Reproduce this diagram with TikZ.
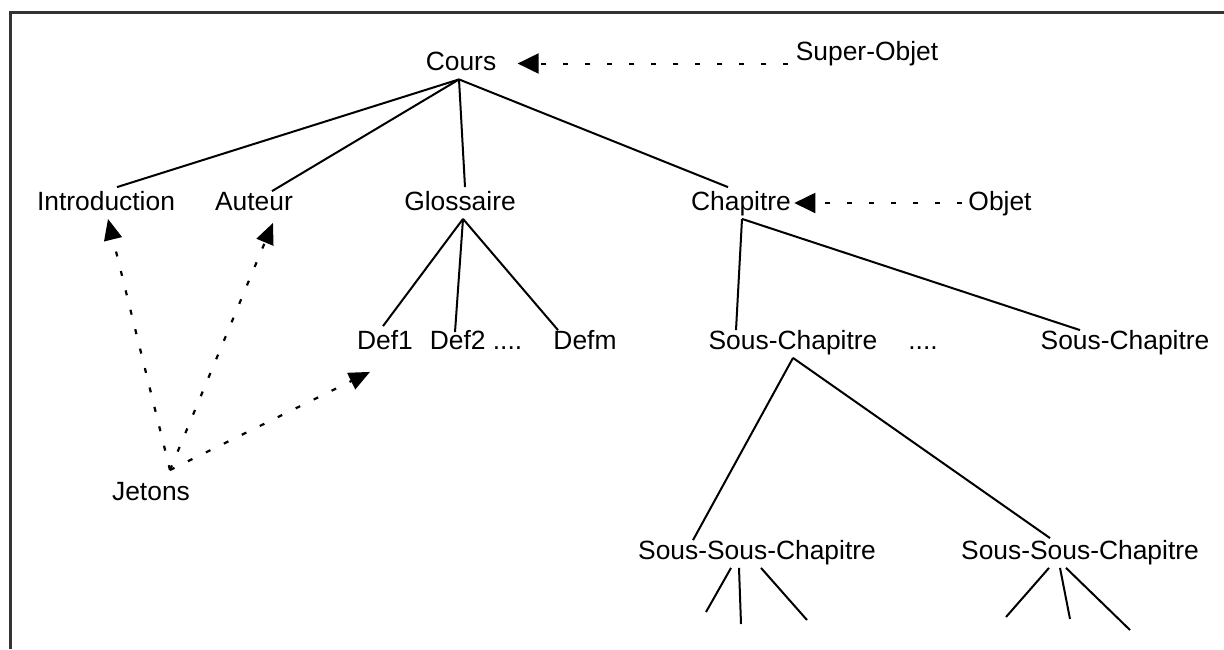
\documentclass[tikz,border=0pt]{standalone}
\usepackage{fontspec}
\setmainfont{Liberation Sans}
\usetikzlibrary{arrows.meta}
\begin{document}
\begin{tikzpicture}[x=0.5pt,y=-0.5pt,
    lbl/.style={inner sep=1.5pt,text height=9.9pt,text depth=2.6pt,font=\fontsize{13.2}{15}\selectfont},
    edge/.style={line width=1pt},
    objarrow/.style={line width=1pt,dash pattern=on 2.5pt off 8.5pt,-{Triangle[length=10.5pt,width=10pt]}},
    jetarrow/.style={line width=1.1pt,dash pattern=on 2.5pt off 7.5pt,-{Triangle[length=10.5pt,width=9pt]}}]
    \useasboundingbox (0,0) rectangle (1224,649);
    \draw[line width=1.5pt,black!80] (1224,12) -- (10,12) -- (10,649);
    \node[lbl] (cours) at (461,63.5) {Cours};
    \node[lbl] (superobj) at (867,53.5) {Super-Objet};
    \node[lbl] (intro) at (106,203) {Introduction};
    \node[lbl] (auteur) at (254,203) {Auteur};
    \node[lbl] (gloss) at (460,203) {Glossaire};
    \node[lbl] (chap) at (741,203) {Chapitre};
    \node[lbl] (objet) at (1000,203) {Objet};
    \node[lbl] (def1) at (385,342) {Def1};
    \node[lbl] (def2) at (476,342) {Def2 ....};
    \node[lbl] (defm) at (585,342) {Defm};
    \node[lbl] (souschap1) at (793,342) {Sous-Chapitre};
    \node[lbl] (dots) at (923,342) {....};
    \node[lbl] (souschap2) at (1125,342) {Sous-Chapitre};
    \node[lbl] (jetons) at (151,493.5) {Jetons};
    \node[lbl] (ssc1) at (757,552) {Sous-Sous-Chapitre};
    \node[lbl] (ssc2) at (1080,552) {Sous-Sous-Chapitre};
    \coordinate (jt) at (170,470);
    \coordinate (leafa) at (706,612);
    \coordinate (leafb) at (741,624);
    \coordinate (leafc) at (807,620);
    \coordinate (leafd) at (1006,617);
    \coordinate (leafe) at (1070,619);
    \coordinate (leaff) at (1130,630);
    \draw[edge] ([xshift=-1pt]cours.south) -- ([xshift=5.5pt]intro.north);
    \draw[edge] ([xshift=-1pt]cours.south) -- ([xshift=9pt,yshift=-2pt]auteur.north);
    \draw[edge] ([xshift=-1pt]cours.south) -- ([xshift=2.5pt]gloss.north);
    \draw[edge] ([xshift=-1pt]cours.south) -- ([xshift=-6.5pt]chap.north);
    \draw[edge] ([xshift=1.5pt]gloss.south) -- ([xshift=-1pt]def1.north);
    \draw[edge] ([xshift=1.5pt]gloss.south) -- ([xshift=-10.5pt,yshift=-3pt]def2.north);
    \draw[edge] ([xshift=1.5pt]gloss.south) -- ([xshift=-13.5pt,yshift=-2pt]defm.north);
    \draw[edge] ([xshift=0.5pt]chap.south) -- ([xshift=-28.5pt,yshift=-2pt]souschap1.north);
    \draw[edge] ([xshift=0.5pt]chap.south) -- ([xshift=-22.5pt,yshift=-2pt]souschap2.north);
    \draw[edge] (souschap1.south) -- ([xshift=-32pt,yshift=-2pt]ssc1.north);
    \draw[edge] (souschap1.south) -- ([xshift=-15pt,yshift=-1pt]ssc2.north);
    \draw[edge] ([xshift=-13pt]ssc1.south) -- (leafa);
    \draw[edge] ([xshift=-9pt]ssc1.south) -- (leafb);
    \draw[edge] ([xshift=2pt]ssc1.south) -- (leafc);
    \draw[edge] ([xshift=-15.5pt]ssc2.south) -- (leafd);
    \draw[edge] ([xshift=-10pt]ssc2.south) -- (leafe);
    \draw[edge] ([xshift=-7pt]ssc2.south) -- (leaff);
    \draw[objarrow,shorten <=2pt] (superobj.west |- cours) -- ([xshift=9pt]cours.east);
    \draw[objarrow,shorten <=1.5pt] (objet.west) -- (chap.east);
    \draw[jetarrow] (jt) -- ([xshift=1pt]intro.south);
    \draw[jetarrow] (jt) -- ([xshift=9.5pt,yshift=-2pt]auteur.south);
    \draw[jetarrow] (jt) -- ([xshift=-7.5pt,yshift=-7pt]def1.south);
\end{tikzpicture}
\end{document}
